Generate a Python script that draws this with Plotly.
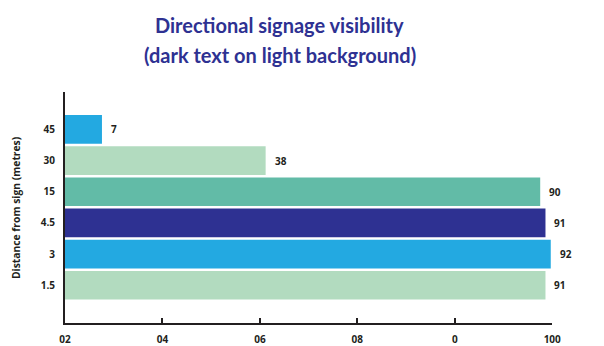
import plotly.graph_objects as go

categories = ["1.5", "3", "4.5", "15", "30", "45"]
values = [91, 92, 91, 90, 38, 7]
bar_colors = ["#B2DBBF", "#23A9E1", "#2E3192", "#62BBA7", "#B2DBBF", "#23A9E1"]
x_tickvals = [0, 20, 40, 60, 80, 100]
x_ticktext = ["02", "04", "06", "08", "0", "100"]
title_lines = ["Directional signage visibility", "(dark text on light background)"]

W, H = 604, 346
L, R, T, B = 65, 604 - 593.3, 92, 23
pw = W - L - R
ph = H - T - B

def px_x(p):
    return (p - L) / pw

def px_y(p):
    return (H - B - p) / ph

FONT = "Open Sans"
TFONT = "Lato"
TXT = "#231F20"

fig = go.Figure()
fig.add_trace(go.Bar(
    x=values, y=categories, orientation="h",
    marker=dict(color=bar_colors, line=dict(width=0)),
    hoverinfo="skip", showlegend=False,
))
fig.add_trace(go.Scatter(x=[], y=[], xaxis="x2", yaxis="y", showlegend=False))

for i, v in enumerate(values):
    fig.add_annotation(x=v, y=i, xref="x", yref="y", text=str(v),
                       showarrow=False, xanchor="left", xshift=7,
                       font=dict(family=FONT, size=10, color=TXT, weight="bold"))

for line, py in zip(title_lines, [25, 55]):
    fig.add_annotation(x=px_x(280), y=px_y(py), xref="paper", yref="paper",
                       text=line, showarrow=False, xanchor="center", yanchor="middle",
                       font=dict(family=TFONT, size=20, color="#2E3192", weight="bold"))

fig.add_annotation(x=px_x(16), y=px_y(208), xref="paper", yref="paper",
                   text="Distance from sign (metres)", textangle=-90,
                   showarrow=False, xanchor="center", yanchor="middle",
                   font=dict(family=FONT, size=10.3, color=TXT, weight="bold"))

fig.update_layout(
    width=W, height=H,
    margin=dict(l=L, r=R, t=T, b=B, autoexpand=False),
    paper_bgcolor="white", plot_bgcolor="rgba(0,0,0,0)",
    bargap=0.08,
    xaxis=dict(range=[0, 100], visible=False, fixedrange=True),
    xaxis2=dict(range=[0, 100], domain=[0, px_x(552.5)], anchor="y",
                tickvals=x_tickvals, ticktext=x_ticktext,
                showline=True, linecolor=TXT, linewidth=2,
                ticks="inside", ticklen=5, tickwidth=2, tickcolor=TXT,
                showgrid=False, zeroline=False, ticklabelstandoff=6,
                tickfont=dict(family=FONT, size=10, color=TXT, weight="bold"),
                automargin=False),
    yaxis=dict(type="category", categoryorder="array", categoryarray=categories,
               range=[-1.21, 6.2],
               showline=True, linecolor=TXT, linewidth=2,
               ticks="", showgrid=False, zeroline=False, ticklabelstandoff=6,
               tickfont=dict(family=FONT, size=10, color=TXT, weight="bold"),
               automargin=False),
)

fig.write_html("out.html")
